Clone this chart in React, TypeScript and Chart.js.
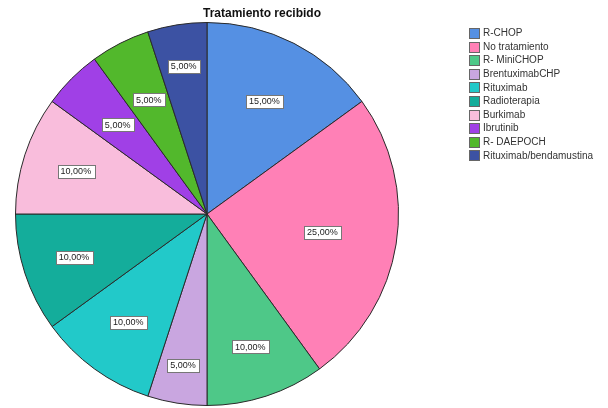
import React, { useEffect, useRef } from "react";
import { Chart, registerables } from "chart.js";

Chart.register(...registerables);

const titleText = "Tratamiento recibido";
const categories = [
  "R-CHOP",
  "No tratamiento",
  "R- MiniCHOP",
  "BrentuximabCHP",
  "Rituximab",
  "Radioterapia",
  "Burkimab",
  "Ibrutinib",
  "R- DAEPOCH",
  "Rituximab/bendamustina",
];
const percentages = [15, 25, 10, 5, 10, 10, 10, 5, 5, 5];
const colors = [
  "#5590e3",
  "#ff80b6",
  "#4ec888",
  "#c9a6e0",
  "#22c9c9",
  "#14ad9b",
  "#f9bddc",
  "#a040e6",
  "#52b82c",
  "#3c52a3",
];
// radial placement of each slice label (fraction of radius) — style only
const labelRadius = [0.66, 0.61, 0.73, 0.8, 0.7, 0.73, 0.72, 0.66, 0.67, 0.78];

const fmt = (v: number) => v.toFixed(2).replace(".", ",") + "%";

const overlayPlugin = {
  id: "overlay",
  afterDatasetsDraw(chart: any) {
    const ctx = chart.ctx;
    const meta = chart.getDatasetMeta(0);
    ctx.save();
    ctx.font = "9px Arial, 'Liberation Sans', sans-serif";
    ctx.textAlign = "center";
    ctx.textBaseline = "middle";
    meta.data.forEach((arc: any, i: number) => {
      const { x, y, startAngle, endAngle, outerRadius } = arc.getProps(
        ["x", "y", "startAngle", "endAngle", "outerRadius"],
        true
      );
      const mid = (startAngle + endAngle) / 2;
      const r = outerRadius * labelRadius[i];
      const lx = x + Math.cos(mid) * r;
      const ly = y + Math.sin(mid) * r;
      const text = fmt(percentages[i]);
      const w = ctx.measureText(text).width + 6;
      const h = 13;
      ctx.fillStyle = "#ffffff";
      ctx.fillRect(Math.round(lx - w / 2), Math.round(ly - h / 2), Math.round(w), h);
      ctx.strokeStyle = "#777777";
      ctx.lineWidth = 1;
      ctx.strokeRect(Math.round(lx - w / 2) + 0.5, Math.round(ly - h / 2) + 0.5, Math.round(w), h);
      ctx.fillStyle = "#222222";
      ctx.fillText(text, lx, ly + 0.5);
    });
    ctx.font = "bold 12px Arial, 'Liberation Sans', sans-serif";
    ctx.fillStyle = "#111111";
    ctx.textAlign = "center";
    ctx.textBaseline = "middle";
    ctx.fillText(titleText, 262, 14);
    ctx.font = "10px Arial, 'Liberation Sans', sans-serif";
    ctx.textAlign = "left";
    categories.forEach((c, i) => {
      const by = 28 + i * 13.6;
      ctx.fillStyle = colors[i];
      ctx.fillRect(469, Math.round(by), 10, 10);
      ctx.strokeStyle = "#666666";
      ctx.strokeRect(469.5, Math.round(by) + 0.5, 10, 10);
      ctx.fillStyle = "#333333";
      ctx.fillText(c, 483, by + 5.5);
    });
    ctx.restore();
  },
};

export default function App() {
  const ref = useRef<HTMLCanvasElement | null>(null);
  useEffect(() => {
    if (!ref.current) return;
    const chart = new Chart(ref.current, {
      type: "pie",
      data: {
        labels: categories,
        datasets: [
          {
            data: percentages,
            backgroundColor: colors,
            borderColor: "#2a2a2a",
            borderWidth: 1,
          },
        ],
      },
      options: {
        responsive: false,
        animation: false,
        layout: { padding: { left: 15, top: 22, right: 209, bottom: 2 } },
        plugins: {
          legend: { display: false },
          tooltip: { enabled: false },
          title: { display: false },
        },
      },
      plugins: [overlayPlugin],
    });
    return () => chart.destroy();
  }, []);
  return (
    <div style={{ position: "absolute", left: 0, top: 0, width: 608, height: 408, background: "#fff" }}>
      <canvas ref={ref} width={608} height={408} />
    </div>
  );
}
